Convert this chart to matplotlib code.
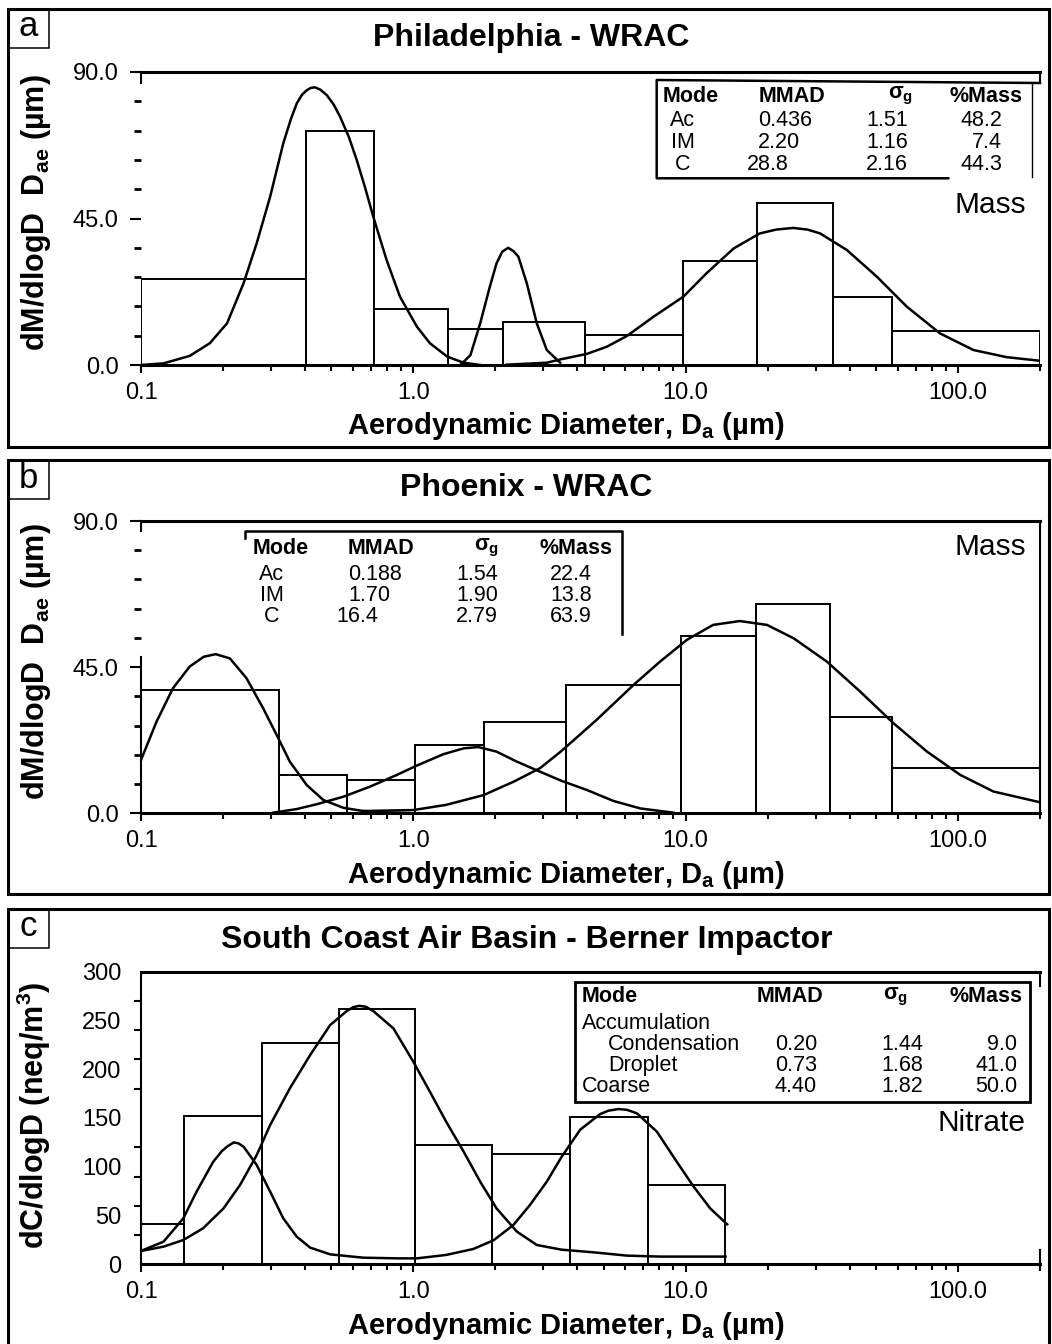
import numpy as np
import matplotlib
matplotlib.use("Agg")
import matplotlib.pyplot as plt
from matplotlib.patches import Rectangle
from matplotlib.lines import Line2D

plt.rcParams['font.family'] = ['Liberation Sans', 'DejaVu Sans']
plt.rcParams['mathtext.fontset'] = 'custom'
plt.rcParams['mathtext.rm'] = 'Liberation Sans'
plt.rcParams['mathtext.bf'] = 'Liberation Sans:bold'
plt.rcParams['mathtext.it'] = 'Liberation Sans:italic'

## panel a - Philadelphia WRAC (bins + fitted modes)
edges_a = [0.1, 0.405, 0.715, 1.335, 2.13, 4.27, 9.75, 18.2, 34.7, 57.4, 200]
heights_a = [26.4, 71.9, 17.2, 11.2, 13.1, 9.1, 32.0, 49.9, 20.9, 10.3]
ac_a_x = [0.1, 0.121, 0.151, 0.179, 0.207, 0.238, 0.266, 0.298, 0.333, 0.355, 0.373, 0.39,
          0.406, 0.42, 0.435, 0.455, 0.481, 0.51, 0.538, 0.58, 0.620, 0.665, 0.713, 0.798,
          0.893, 1.03, 1.15, 1.33, 1.53, 1.76]
ac_a_y = [0, 0.5, 2.8, 6.7, 12.8, 25.1, 37.4, 51.7, 68.1, 75.5, 80.3, 83.0,
          84.4, 85.1, 85.3, 84.6, 82.9, 80.0, 76.3, 70.0, 62.9, 54.5, 45.5, 32.2,
          21.0, 11.8, 6.7, 2.6, 0.7, 0]
im_a_x = [1.50, 1.62, 1.76, 1.91, 2.02, 2.12, 2.23, 2.33, 2.43, 2.61, 2.84, 3.09, 3.46]
im_a_y = [0.3, 3.0, 12.8, 24.1, 31.2, 34.8, 36.0, 35.0, 33.3, 25.1, 12.8, 4.6, 0.7]
c_a_x = [2.2, 3.09, 3.46, 4.33, 5.13, 6.08, 7.61, 9.81, 11.9, 15.0, 18.7, 21.5, 24.8, 28.0,
         31.2, 39.1, 50.4, 64.9, 85.9, 114, 151, 200]
c_a_y = [0.1, 0.7, 1.7, 3.4, 5.6, 8.9, 14.8, 21.0, 28.1, 35.8, 40.4, 41.6, 42.1, 41.6,
         40.4, 35.3, 27.1, 17.9, 9.7, 4.6, 2.4, 1.3]

## panel b - Phoenix WRAC
edges_b = [0.1, 0.321, 0.573, 1.01, 1.82, 3.63, 9.6, 18.1, 34.0, 57.1, 200]
heights_b = [37.9, 11.8, 10.3, 21.1, 28.2, 39.6, 54.6, 64.5, 29.7, 14.0]
ac_b_x = [0.1, 0.114, 0.131, 0.151, 0.170, 0.188, 0.212, 0.244, 0.281, 0.315, 0.352,
          0.406, 0.467, 0.553, 0.654, 0.82, 1.0]
ac_b_y = [16.4, 28.2, 38.5, 45.2, 48.2, 49.0, 47.7, 41.6, 32.3, 24.1, 15.9,
          8.7, 4.1, 1.7, 0.7, 0.2, 0]
im_b_x = [0.306, 0.373, 0.442, 0.553, 0.693, 0.869, 1.03, 1.29, 1.53, 1.73, 2.02, 2.40,
          2.92, 3.50, 4.33, 5.43, 6.81, 9.0]
im_b_y = [0.2, 1.3, 2.8, 5.1, 8.2, 11.8, 14.7, 18.2, 20.0, 20.4, 19.0, 15.9,
          12.8, 10.0, 7.2, 3.8, 1.5, 0.2]
c_b_x = [0.654, 1.0, 1.32, 1.81, 2.33, 2.92, 3.5, 4.7, 6.43, 8.05, 10.1, 12.6, 15.8, 19.9,
         24.9, 33.0, 43.7, 58.0, 76.9, 102, 135, 200]
c_b_y = [0.7, 1.0, 2.6, 5.6, 9.7, 13.9, 19.2, 28.7, 39.5, 46.7, 53.4, 58.0, 59.2, 58.0,
         53.9, 46.7, 37.5, 27.7, 19.0, 11.8, 6.7, 3.4]

## panel c - South Coast Air Basin, Berner impactor, nitrate
edges_c = [0.1, 0.144, 0.277, 0.533, 1.01, 1.95, 3.76, 7.26, 14.0]
heights_c = [41.3, 152.4, 226.5, 261.7, 122.3, 113.4, 151.0, 81.0]
cond_x = [0.1, 0.121, 0.143, 0.160, 0.184, 0.198, 0.207, 0.219, 0.228, 0.238, 0.266, 0.298,
          0.333, 0.373, 0.418, 0.495, 0.654, 0.869, 1.03, 1.32, 1.66, 1.97, 2.33, 2.68,
          3.09, 3.5, 4.1, 4.85, 5.2, 5.67, 6.1, 6.62, 7.84, 9.28, 10.7, 12.3, 14.2]
cond_y = [13.7, 23.2, 47.1, 74.5, 105, 116, 120.6, 125, 124, 120.6, 101.8, 74.5,
          47.1, 28.4, 17.1, 10.2, 6.8, 6.1, 6.1, 9.6, 15.7, 24.6, 40.3, 60.8,
          84.7, 110, 138, 154, 157.5, 159.2, 158.3, 154.8, 136, 105, 79.6, 57.4, 41.0]
drop_x = [0.1, 0.121, 0.143, 0.169, 0.201, 0.231, 0.266, 0.298, 0.352, 0.418, 0.495, 0.569,
          0.60, 0.633, 0.67, 0.713, 0.845, 1.0, 1.15, 1.32, 1.53, 1.76, 2.02, 2.40, 2.84,
          3.5, 4.58, 6.08, 8.05, 14.0]
drop_y = [13.7, 18.1, 24.9, 36.9, 57.4, 81.3, 112, 142.8, 180.4, 214.6, 245.3, 259.6,
          263.5, 265, 264, 259.6, 241.9, 207.7, 177, 146.2, 115.5, 84.7, 57.4, 33.5, 19.8,
          15, 12.3, 8.9, 7.9, 7.9]

## fit tables
head = ["Mode", "MMAD", "σ$_\\mathbf{g}$", "%Mass"]
modes_a = ["Ac", "IM", "C"]
mmad_a = ["0.436", "2.20", "28.8"]
sig_a = ["1.51", "1.16", "2.16"]
mass_a = ["48.2", "7.4", "44.3"]
modes_b = ["Ac", "IM", "C"]
mmad_b = ["0.188", "1.70", "16.4"]
sig_b = ["1.54", "1.90", "2.79"]
mass_b = ["22.4", "13.8", "63.9"]
modes_c = ["Condensation", "Droplet", "Coarse"]
mmad_c = ["0.20", "0.73", "4.40"]
sig_c = ["1.44", "1.68", "1.82"]
mass_c = ["9.0", "41.0", "50.0"]

xticks = [0.1, 1.0, 10.0, 100.0]
xticklabels = ["0.1", "1.0", "10.0", "100.0"]

W, H = 1052, 1344
TS = 15.5  # table font size
fig = plt.figure(figsize=(W / 100, H / 100), dpi=100)


def fx(px):
    return px / W


def fy(py):
    return 1 - py / H


def ftext(x, y, s, ha='left', size=TS, bold=False):
    fig.text(fx(x), fy(y), s, ha=ha, va='center', fontsize=size,
             fontweight='bold' if bold else 'normal')


def fline(xs, ys, lw=1.3):
    fig.add_artist(Line2D([fx(v) for v in xs], [fy(v) for v in ys], color='k', lw=lw,
                          transform=fig.transFigure))


def make_axes(y0, y1):
    ax = fig.add_axes([fx(141), fy(y0), 899 / W, (y0 - y1) / H])
    ax.set_xscale('log')
    ax.set_xlim(0.1, 200)
    ax.set_xticks(xticks)
    ax.set_xticklabels(xticklabels)
    ax.tick_params(axis='x', which='major', direction='out', length=6, width=1.5,
                   labelsize=17, pad=6)
    ax.tick_params(axis='x', which='minor', direction='out', length=4.5, width=1.5)
    ax.tick_params(axis='y', labelsize=17)
    for s in ['top', 'bottom']:
        ax.spines[s].set_linewidth(2.2)
    ax.spines['left'].set_linewidth(1.5)
    ax.spines['right'].set_linewidth(1.5)
    ax.patch.set_alpha(0)
    ax.set_xlabel("Aerodynamic Diameter, D$_\\mathbf{a}$ (µm)", fontsize=21, fontweight='bold')
    ax.xaxis.set_label_coords(0.473, -0.155)
    return ax


def draw_bars(ax, edges, heights):
    ax.bar(edges[:-1], heights, width=np.diff(edges), align='edge', fill=False,
           edgecolor='k', linewidth=1.4, zorder=2)


def mass_axes_y(ax):
    ax.set_ylim(0, 90)
    ax.set_yticks([0, 45, 90])
    ax.set_yticklabels(["0.0", "45.0", "90.0"])
    ax.set_yticks(np.arange(9, 90, 9), minor=True)
    ax.tick_params(axis='y', which='major', direction='out', length=8, width=1.5, pad=8)
    ax.tick_params(axis='y', which='minor', direction='out', length=5, width=2)
    ax.set_ylabel("dM/dlogD  D$_\\mathbf{ae}$ (µm)", fontsize=22, fontweight='bold')
    ax.yaxis.set_label_coords(-0.098, 0.52)


def frame(y0, y1, letter):
    fig.add_artist(Rectangle((fx(8), fy(y1)), (1049 - 8) / W, (y1 - y0) / H, fill=False,
                             lw=2.2, edgecolor='k', transform=fig.transFigure))
    fig.add_artist(Rectangle((fx(8), fy(y0 + 39)), 41 / W, 39 / H, fill=False,
                             lw=1.1, edgecolor='k', transform=fig.transFigure))
    fig.text(fx(28), fy(y0 + 18), letter, ha='center', va='center', fontsize=25)


# ---------------- panel a
frame(9, 447, "a")
ax = make_axes(365, 72)
mass_axes_y(ax)
ax.spines['left'].set_bounds(86.5, 90)
ax.spines['right'].set_bounds(86.5, 90)
draw_bars(ax, edges_a, heights_a)
for xs, ys in [(ac_a_x, ac_a_y), (im_a_x, im_a_y), (c_a_x, c_a_y)]:
    ax.plot(xs, ys, color='k', lw=1.8, zorder=3)
fig.text(fx(531), fy(38), "Philadelphia - WRAC", ha='center', va='center', fontsize=23,
         fontweight='bold')
ftext(1026, 205, "Mass", ha='right', size=21.5)
# table
fline([1040, 656.7, 656.7, 948.3], [83, 80, 178.3, 178.3], lw=1.8)
fline([1031.7, 1031.7], [83, 177], lw=1.0)
ftext(663, 96, head[0], bold=True)
ftext(759, 96, head[1], bold=True)
ftext(913, 96, head[2], ha='right', bold=True)
ftext(1023, 96, head[3], ha='right', bold=True)
for i, yy in enumerate([121, 142.5, 164]):
    ftext(683, yy, modes_a[i], ha='center')
    ftext([758, 758, 747][i], yy, mmad_a[i])
    ftext(908, yy, sig_a[i], ha='right')
    ftext(1002, yy, mass_a[i], ha='right')

# ---------------- panel b
frame(460, 894, "b")
ax = make_axes(813.3, 521)
mass_axes_y(ax)
ax.spines['left'].set_bounds(0, 48.2)
ax.plot([0.1, 0.1], [87, 90], color='k', lw=1.5, clip_on=False)
draw_bars(ax, edges_b, heights_b)
for xs, ys in [(ac_b_x, ac_b_y), (im_b_x, im_b_y), (c_b_x, c_b_y)]:
    ax.plot(xs, ys, color='k', lw=1.8, zorder=3)
fig.text(fx(526), fy(488), "Phoenix - WRAC", ha='center', va='center', fontsize=23,
         fontweight='bold')
ftext(1026, 547, "Mass", ha='right', size=21.5)
fline([245, 245, 621.7, 621.7], [538, 531, 531, 634], lw=1.8)
ftext(252.7, 548.3, head[0], bold=True)
ftext(348, 548.3, head[1], bold=True)
ftext(499, 548.3, head[2], ha='right', bold=True)
ftext(612.7, 548.3, head[3], ha='right', bold=True)
for i, yy in enumerate([574.5, 595.5, 616.5]):
    ftext(272, yy, modes_b[i], ha='center')
    ftext([348, 348, 336][i], yy, mmad_b[i])
    ftext(498, yy, sig_b[i], ha='right')
    ftext(592, yy, mass_b[i], ha='right')

# ---------------- panel c
frame(909, 1352, "c")
ax = make_axes(1264.3, 971.7)
ax.set_ylim(0, 300)
ax.set_yticks(np.arange(0, 301, 50))
ax.set_yticks(np.arange(30, 300, 30), minor=True)
ax.tick_params(axis='y', which='major', length=0, pad=14)
ax.tick_params(axis='y', which='minor', direction='out', length=5, width=1.5)
ax.spines['right'].set_visible(False)
ax.plot([200, 200], [285, 300], color='k', lw=1.5, clip_on=False)
ax.plot([200, 200], [-6, 15], color='k', lw=1.5, clip_on=False)
ax.set_ylabel("dC/dlogD (neq/m$^\\mathbf{3}$)", fontsize=22, fontweight='bold')
ax.yaxis.set_label_coords(-0.098, 0.51)
draw_bars(ax, edges_c, heights_c)
ax.plot(cond_x, cond_y, color='k', lw=1.8, zorder=3)
ax.plot(drop_x, drop_y, color='k', lw=1.8, zorder=3)
fig.text(fx(527), fy(940), "South Coast Air Basin - Berner Impactor", ha='center',
         va='center', fontsize=23, fontweight='bold')
ftext(1026, 1123, "Nitrate", ha='right', size=21.5)
fig.add_artist(Rectangle((fx(575), fy(1101.7)), 455 / W, 120 / H, fill=False, lw=2.0,
                         edgecolor='k', transform=fig.transFigure))
ftext(581.7, 996.7, head[0], bold=True)
ftext(757, 996.7, head[1], bold=True)
ftext(908, 996.7, head[2], ha='right', bold=True)
ftext(1023, 996.7, head[3], ha='right', bold=True)
ftext(581.7, 1023.3, "Accumulation")
for i, yy in enumerate([1044.5, 1065.5, 1086.7]):
    ftext([608, 608, 581.7][i], yy, modes_c[i])
    ftext(817, yy, mmad_c[i], ha='right')
    ftext(923, yy, sig_c[i], ha='right')
    ftext(1017, yy, mass_c[i], ha='right')

fig.savefig("out.png", dpi=100)
